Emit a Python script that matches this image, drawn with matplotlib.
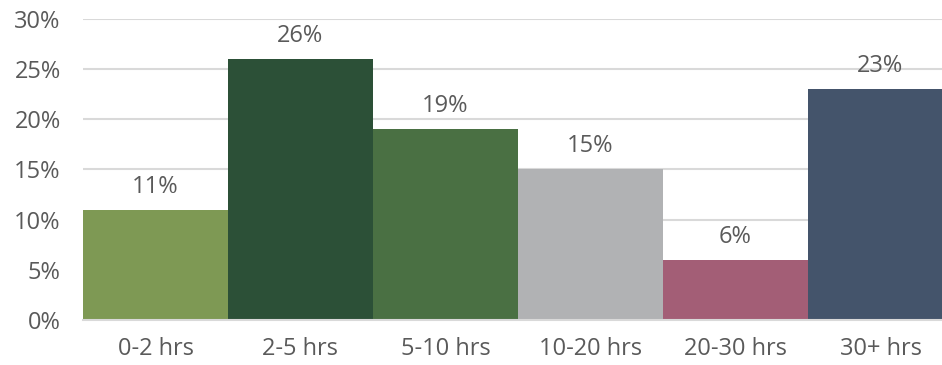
import matplotlib
matplotlib.use("Agg")
import matplotlib.pyplot as plt
from matplotlib.ticker import PercentFormatter

categories = ["0-2 hrs", "2-5 hrs", "5-10 hrs", "10-20 hrs", "20-30 hrs", "30+ hrs"]
values = [11, 26, 19, 15, 6, 23]
colors = ["#7e9954", "#2c5037", "#4a7043", "#b1b2b4", "#a35e76", "#44546b"]

plt.rcParams["font.family"] = ["Open Sans", "DejaVu Sans"]
TXT = "#5a5a5a"
FS = 17

fig = plt.figure(figsize=(9.42, 3.65), dpi=100)
# axes runs a little past the right edge, as in the reference
ax = fig.add_axes([83 / 942, 45 / 365, 870 / 942, 301 / 365])

x = range(len(categories))
ax.bar(x, values, width=1.0, color=colors, zorder=2)
for xi, v in zip(x, values):
    ax.text(xi, v + 1.1, f"{v}%", ha="center", va="bottom",
            fontsize=FS, color=TXT)

ax.set_xlim(-0.5, 5.5)
ax.set_ylim(0, 30)
ax.set_yticks(range(0, 31, 5))
ax.yaxis.set_major_formatter(PercentFormatter(decimals=0))
ax.set_xticks(list(x))
ax.set_xticklabels(categories)
ax.tick_params(axis="both", length=0, labelsize=FS, labelcolor=TXT)
ax.tick_params(axis="x", pad=12)
ax.tick_params(axis="y", pad=16)
ax.grid(axis="y", color="#d9d9d9", lw=1.5, zorder=0)
for s in ["top", "right", "left"]:
    ax.spines[s].set_visible(False)
ax.spines["bottom"].set_color("#d9d9d9")
ax.spines["bottom"].set_linewidth(1.5)

fig.savefig("out.png", dpi=100)
